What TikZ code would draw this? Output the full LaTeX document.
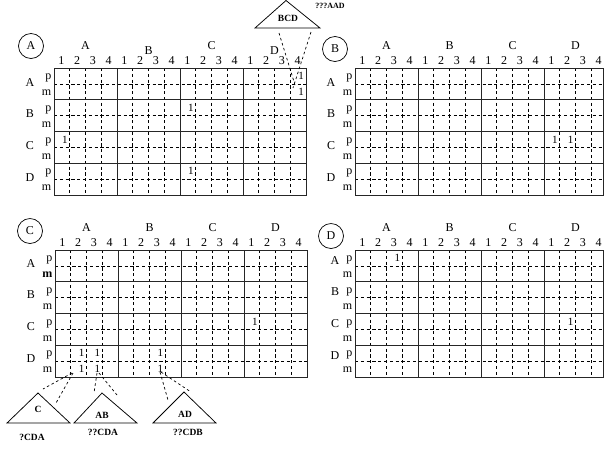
\documentclass[tikz,border=0pt]{standalone}
\usepackage{fontspec}
\setmainfont{Liberation Serif}
\expandafter\def\csname mstyleC0\endcsname{\bfseries}
\newcommand\mygrid[8]{% #1 name, #2 x0, #3 y0, #4 right, #5 header alt dy, #6 row letter x off, #7 row letter baseline dy, #8 circle pos
  \foreach \j in {1,2,3,5,6,7,9,10,11,13,14,15}
    \draw[dsh] ({#2+15.75*\j},#3) -- ({#2+15.75*\j},{#3+127});
  \foreach \i in {0,...,3}
    \draw[dsh] (#2,{#3+15.875+31.75*\i}) -- (#4,{#3+15.875+31.75*\i});
  \foreach \i in {1,2,3}
    \draw[sol] ({#2+63*\i},#3) -- ({#2+63*\i},{#3+127});
  \foreach \i in {1,2,3}
    \draw[sol] (#2,{#3+31.75*\i}) -- (#4,{#3+31.75*\i});
  \draw[sol] (#2,#3) rectangle (#4,{#3+127});
  \foreach \L [count=\i from 0] in {A,B,C,D}{
    \pgfmathsetmacro\hdy{#5*mod(\i,2)}
    \node[lbl,anchor=base] (#1h\L) at ({#2+63*\i+31.5},{#3-19+\hdy}) {\L};
    \node[lbl,anchor=base] (#1r\L) at ({#2-#6},{#3+31.75*\i+#7}) {\L};
    \node[lbl,anchor=base east] (#1p\L) at ({#2-2.5},{#3+31.75*\i+11.5}) {p};
    \node[lbl,anchor=base east] (#1m\L) at ({#2-2.5},{#3+31.75*\i+27.5}) {\csname mstyle#1\i\endcsname m};
  }
  \foreach \j in {0,...,15}{
    \pgfmathtruncatemacro\n{mod(\j,4)+1}
    \node[lbl,anchor=base] (#1n\j) at ({#2+15.75*\j+7.3},{#3-4}) {\n};
  }
  \node[circ] (#1c) at #8 {#1};
}
\newcommand\one[5]{% name, x0, y0, col, subrow
  \node[cell] (#1o#4x#5) at ({#2+15.75*(#4+1)-2},{#3+15.875*(#5+0.5)+3.8}) {1};
}
\begin{document}
\begin{tikzpicture}[x=1pt,y=-1pt,
  lbl/.style={inner sep=0pt,font=\fontsize{12}{13}\selectfont},
  cell/.style={inner sep=0pt,anchor=base east,font=\fontsize{11}{12}\selectfont},
  circ/.style={draw,circle,minimum size=25pt,inner sep=0pt,line width=0.7pt,font=\fontsize{12}{13}\selectfont},
  dsh/.style={dash pattern=on 3.2pt off 2.6pt, line width=0.75pt},
  sol/.style={line width=0.9pt, black!85},
  tri/.style={line width=0.75pt},
  con/.style={dash pattern=on 2.6pt off 2.6pt, line width=0.7pt},
  tlbl/.style={inner sep=0pt,font=\bfseries\fontsize{9.5}{10}\selectfont}]
\useasboundingbox (0,0) rectangle (604,448);

\mygrid{A}{54}{68}{306}{5}{24}{18}{(31,46)}
\mygrid{B}{355}{68}{603}{0}{24}{18}{(335,49)}
\mygrid{C}{55}{250}{307}{0}{24}{17}{(30,231)}
\mygrid{D}{355}{250}{603}{0}{20}{14}{(331,236)}

% ones
\one{A}{54}{68}{15}{0}
\one{A}{54}{68}{15}{1}
\one{A}{54}{68}{8}{2}
\one{A}{54}{68}{0}{4}
\one{A}{54}{68}{8}{6}
\one{B}{355}{68}{12}{4}
\one{B}{355}{68}{13}{4}
\one{C}{55}{250}{12}{4}
\one{C}{55}{250}{1}{6}
\one{C}{55}{250}{2}{6}
\one{C}{55}{250}{6}{6}
\one{C}{55}{250}{1}{7}
\one{C}{55}{250}{2}{7}
\one{C}{55}{250}{6}{7}
\one{D}{355}{250}{2}{0}
\one{D}{355}{250}{13}{4}

% BCD triangle
\coordinate (t1a) at (286,0.5); \coordinate (t1l) at (255,28); \coordinate (t1r) at (320,28);
\draw[tri] (t1l) -- (t1a) -- (t1r) -- cycle;
\node[tlbl] (bcd) at (288,18) {BCD};
\node[tlbl,font=\bfseries\fontsize{8}{9}\selectfont] (aad) at (330,5.5) {???AAD};
\coordinate (b1s) at (279,33); \coordinate (b1e) at (295,85);
\coordinate (b2s) at (311,32); \coordinate (b2e) at (293,88);
\draw[con] (b1s) -- (b1e);
\draw[con] (b2s) -- (b2e);

% C triangle
\coordinate (t2a) at (38,393); \coordinate (t2l) at (7,423); \coordinate (t2r) at (70,423);
\draw[tri] (t2l) -- (t2a) -- (t2r) -- cycle;
\node[tlbl] (tc) at (38,409) {C};
\node[tlbl] (cda1) at (32,437) {?CDA};
\coordinate (c1s) at (72,373); \coordinate (c1e) at (43,389);
\coordinate (c2s) at (73,373); \coordinate (c2e) at (56,403);
\draw[con] (c1s) -- (c1e);
\draw[con] (c2s) -- (c2e);

% AB triangle
\coordinate (t3a) at (102,393); \coordinate (t3l) at (74,423); \coordinate (t3r) at (137,423);
\draw[tri] (t3l) -- (t3a) -- (t3r) -- cycle;
\node[tlbl] (tab) at (102,415) {AB};
\node[tlbl] (cda2) at (103,432) {??CDA};
\coordinate (a1s) at (97,373); \coordinate (a1e) at (94,393);
\coordinate (a2s) at (99,373); \coordinate (a2e) at (117,395);
\draw[con] (a1s) -- (a1e);
\draw[con] (a2s) -- (a2e);

% AD triangle
\coordinate (t4a) at (184,392); \coordinate (t4l) at (153,423); \coordinate (t4r) at (216,423);
\draw[tri] (t4l) -- (t4a) -- (t4r) -- cycle;
\node[tlbl] (tad) at (185,414) {AD};
\node[tlbl] (cdb) at (188,432) {??CDB};
\coordinate (d1s) at (160,372); \coordinate (d1e) at (168,400);
\coordinate (d2s) at (161,372); \coordinate (d2e) at (191,392);
\draw[con] (d1s) -- (d1e);
\draw[con] (d2s) -- (d2e);
\end{tikzpicture}
\end{document}
